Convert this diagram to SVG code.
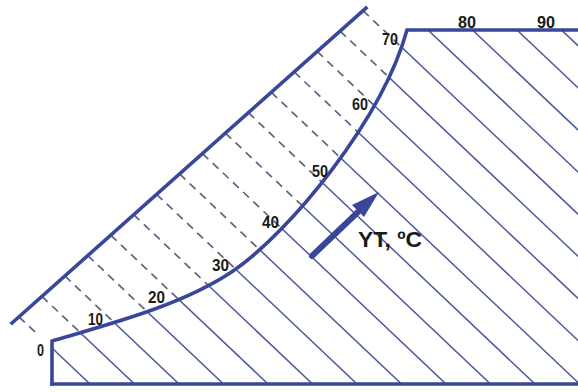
<svg xmlns="http://www.w3.org/2000/svg" width="578" height="392" viewBox="0 0 578 392">
<style>
.out{fill:none;stroke:#3a4699;stroke-width:3.6;stroke-linejoin:miter;stroke-linecap:square}
.hs{stroke:#4f5a99;stroke-width:1.5}
.hd{stroke:#5e637f;stroke-width:1.7;stroke-dasharray:8 6}
.lbl{font-family:"Liberation Sans",Arial,sans-serif;font-weight:bold;font-size:17px;fill:#1a1a1a}
.yt{font-family:"Liberation Sans",Arial,sans-serif;font-weight:bold;font-size:22px;fill:#1a1a1a}
</style>
<defs>
<clipPath id="solidClip"><path d="M52,341 C110,324 183,305 233,271 C290,232 382,120 407,30 L578,30 L578,384 L52,384 Z"/></clipPath>
<clipPath id="dashClip"><path d="M12,323 L366,8 L407,30 C382,120 290,232 233,271 C183,305 110,324 52,341 Z"/></clipPath>
</defs>
<rect width="578" height="392" fill="#ffffff"/>
<g id="hatch-solid" clip-path="url(#solidClip)" class="hs">
<line x1="-326.3" y1="-10" x2="106.9" y2="400"/>
<line x1="-281.8" y1="-10" x2="151.4" y2="400"/>
<line x1="-237.3" y1="-10" x2="195.9" y2="400"/>
<line x1="-192.8" y1="-10" x2="240.4" y2="400"/>
<line x1="-148.3" y1="-10" x2="284.9" y2="400"/>
<line x1="-103.8" y1="-10" x2="329.4" y2="400"/>
<line x1="-59.3" y1="-10" x2="373.9" y2="400"/>
<line x1="-14.8" y1="-10" x2="418.4" y2="400"/>
<line x1="29.7" y1="-10" x2="462.9" y2="400"/>
<line x1="74.2" y1="-10" x2="507.4" y2="400"/>
<line x1="118.7" y1="-10" x2="551.9" y2="400"/>
<line x1="163.2" y1="-10" x2="596.4" y2="400"/>
<line x1="207.7" y1="-10" x2="640.9" y2="400"/>
<line x1="252.2" y1="-10" x2="685.4" y2="400"/>
<line x1="296.7" y1="-10" x2="729.9" y2="400"/>
<line x1="341.2" y1="-10" x2="774.4" y2="400"/>
<line x1="385.7" y1="-10" x2="818.9" y2="400"/>
<line x1="430.2" y1="-10" x2="863.4" y2="400"/>
<line x1="474.7" y1="-10" x2="907.9" y2="400"/>
<line x1="519.2" y1="-10" x2="952.4" y2="400"/>
</g>
<g id="hatch-dashed" clip-path="url(#dashClip)" class="hd">
<line x1="363.04" y1="10.64" x2="757.5" y2="384"/>
<line x1="340.10" y1="31.05" x2="713" y2="384"/>
<line x1="317.17" y1="51.46" x2="668.5" y2="384"/>
<line x1="294.23" y1="71.87" x2="624" y2="384"/>
<line x1="271.30" y1="92.29" x2="579.5" y2="384"/>
<line x1="248.36" y1="112.70" x2="535" y2="384"/>
<line x1="225.42" y1="133.10" x2="490.5" y2="384"/>
<line x1="202.48" y1="153.51" x2="446" y2="384"/>
<line x1="179.55" y1="173.92" x2="401.5" y2="384"/>
<line x1="156.61" y1="194.33" x2="357" y2="384"/>
<line x1="133.67" y1="214.74" x2="312.5" y2="384"/>
<line x1="110.73" y1="235.14" x2="268" y2="384"/>
<line x1="87.80" y1="255.56" x2="223.5" y2="384"/>
<line x1="64.86" y1="275.97" x2="179" y2="384"/>
<line x1="41.92" y1="296.37" x2="134.5" y2="384"/>
<line x1="18.99" y1="316.79" x2="90" y2="384"/>
</g>
<g id="outline">
<line class="out" x1="12" y1="323" x2="366" y2="8"/>
<path class="out" d="M52,384 L52,341 C110,324 183,305 233,271 C290,232 382,120 407,30 L580,30"/>
<line class="out" x1="52" y1="384" x2="580" y2="384" stroke-width="4"/>
</g>
<g id="arrow">
<line x1="312" y1="256" x2="358" y2="212" stroke="#3a4699" stroke-width="6" stroke-linecap="round"/>
<polygon points="379,192 364,217 352,205" fill="#3a4699"/>
</g>
<g id="labels">
<text class="lbl" x="37" y="356" textLength="7" lengthAdjust="spacingAndGlyphs">0</text>
<text class="lbl" x="88" y="325" textLength="15" lengthAdjust="spacingAndGlyphs">10</text>
<text class="lbl" x="148" y="303" textLength="17" lengthAdjust="spacingAndGlyphs">20</text>
<text class="lbl" x="212" y="271" textLength="17" lengthAdjust="spacingAndGlyphs">30</text>
<text class="lbl" x="262" y="228" textLength="17" lengthAdjust="spacingAndGlyphs">40</text>
<text class="lbl" x="312" y="177" textLength="16" lengthAdjust="spacingAndGlyphs">50</text>
<text class="lbl" x="352" y="110" textLength="16" lengthAdjust="spacingAndGlyphs">60</text>
<text class="lbl" x="382" y="45" textLength="16" lengthAdjust="spacingAndGlyphs">70</text>
<text class="lbl" x="458" y="28" textLength="18" lengthAdjust="spacingAndGlyphs">80</text>
<text class="lbl" x="537" y="28" textLength="18" lengthAdjust="spacingAndGlyphs">90</text>
<text class="yt" x="358" y="247" textLength="64" lengthAdjust="spacingAndGlyphs">YT, ºC</text>
</g>
</svg>
